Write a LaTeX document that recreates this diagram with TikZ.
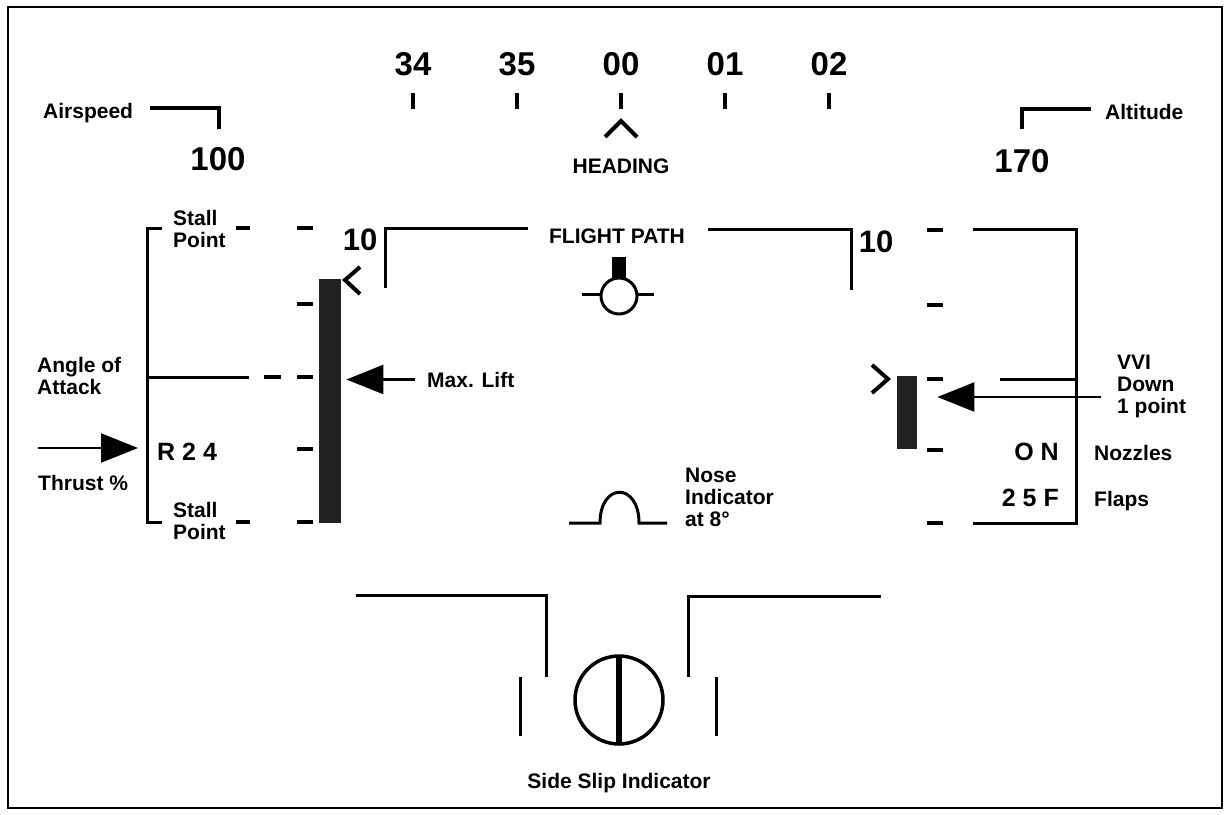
\documentclass[tikz,border=0pt]{standalone}
\usepackage{fontspec}
\setmainfont{Liberation Sans}
\usepackage{tikz}
\usetikzlibrary{arrows.meta,positioning}
\definecolor{BarGray}{RGB}{34,34,34}
\newcommand\hudlbl{\fontsize{21}{22}\selectfont\bfseries}
\newcommand\hudbig{\fontsize{33}{36}\selectfont\bfseries}
\newcommand\hudmid{\fontsize{31}{34}\selectfont\bfseries}
\newcommand\hudval{\fontsize{25}{28}\selectfont\bfseries}

\begin{document}
\begin{tikzpicture}[x=1pt, y=-1pt,
		lbl/.style={font=\hudlbl, inner sep=0pt, align=left},
		hud/.style={line width=3pt},
		heavy/.style={line width=4pt},
		tickmark/.style={line width=4.5pt},
		ptr/.style={line width=2.5pt, -{Triangle[length=37pt,width=29pt]}},
		bar/.style={fill=BarGray, inner sep=0pt, anchor=north west}]
		\useasboundingbox (0,0) rectangle (1228,814);
		% 边框
		\draw[line width=2pt] (8,7) rectangle (1222,808);
		% 航向
		\foreach \hdg [count=\i from 0] in {34,35,00,01,02} {
			\node[font=\hudbig, inner sep=0pt, anchor=base] (hdg\i) at (413+104*\i,75) {\hdg};
			\draw[tickmark] (413+104*\i,93) -- (413+104*\i,109);
		}
		\draw[heavy] (605,137) -- (621,121) -- (637,137);
		\node[lbl, anchor=base] (heading) at (621,173) {HEADING};
		% 空速
		\node[lbl, anchor=base west] (airspeed) at (43,118) {Airspeed};
		\draw[heavy] (150,108) -- (219,108) -- (219,129);
		\node[font=\hudbig, inner sep=0pt, anchor=base] (spd) at (218,170) {100};
		% 高度
		\node[lbl, anchor=base west] (altitude) at (1105,119) {Altitude};
		\draw[heavy] (1091,109) -- (1022,109) -- (1022,129);
		\node[font=\hudbig, inner sep=0pt, anchor=base] (alt) at (1022,172) {170};
		% 左侧：迎角
		\begin{scope}
			\draw[hud] (162,228) -- (147,228) -- (147,522) -- (162,522);
			\draw[hud] (147,377) -- (249,377);
			\foreach \y in {228,522} \draw[heavy] (236,\y) -- (250,\y);
			\draw[heavy] (264,377) -- (281,377);
			\foreach \y in {228,304,377,449,522} \draw[heavy] (297,\y) -- (313,\y);
			\node[lbl, anchor=north west] (stalltop) at (173,210) {Stall\\Point};
			\node[lbl, anchor=north west] (stallbot) at (173,502) {Stall\\Point};
			\node[lbl, anchor=north west] (aoa) at (37,357) {Angle of\\Attack};
			\node[font=\hudval, inner sep=0pt, anchor=base west] (r24) at (157,460) {R 2 4};
			\node[lbl, anchor=base west] (thrust) at (38,490) {Thrust \%};
			\node[bar, minimum width=22pt, minimum height=244pt] (liftbar) at (319,279) {};
			\draw[heavy] (360,267) -- (345,280) -- (360,294);
			\node[lbl, anchor=base west] (maxlift) at (427,387) {Max. Lift};
			\draw[ptr] ([xshift=-12pt]maxlift.west) -- ([xshift=5pt]liftbar.east |- maxlift.west);
			\coordinate (thrusttail) at (38,448);
			\draw[ptr] (thrusttail) -- ([xshift=-19pt]r24.west |- thrusttail);
		\end{scope}
		% 飞行路径
		\begin{scope}
			\node[font=\hudmid, inner sep=0pt, anchor=base] (pitchl) at (360,250) {10};
			\node[font=\hudmid, inner sep=0pt, anchor=base] (pitchr) at (876,252) {10};
			\draw[hud] (385,288) -- (385,228) -- (528,228);
			\draw[hud] (708,229) -- (851,229) -- (851,290);
			\node[lbl, anchor=base] (fpath) at (617,243) {FLIGHT PATH};
			\fill (612,257) rectangle (626,278);
			\draw[hud] (619,296) circle[radius=18];
			\draw[hud] (582,294) -- (601,294);
			\draw[hud] (637,294) -- (654,294);
			\draw[hud] (569,523) -- (600,523) .. controls (600,482) and (639,482) .. (639,523) -- (667,523);
			\node[lbl, anchor=north west] (nose) at (685,468) {Nose\\Indicator\\at 8°};
		\end{scope}
		% 右侧：垂直速度
		\begin{scope}
			\foreach \y in {230,305,379,450,523} \draw[heavy] (927,\y) -- (943,\y);
			\draw[hud] (973,229) -- (1076,229) -- (1076,523) -- (973,523);
			\draw[hud] (1000,379) -- (1076,379);
			\draw[heavy] (872,365) -- (888,379) -- (872,393);
			\node[bar, minimum width=20pt, minimum height=73pt] (vvibar) at (897,376) {};
			\node[lbl, anchor=north west] (vvi) at (1117,355) {VVI\\Down\\1 point};
			\coordinate (vvitail) at (1101,397);
			\draw[ptr] (vvitail) -- ([xshift=20pt]vvibar.east |- vvitail);
			\node[font=\hudval, inner sep=0pt, anchor=base east] (onval) at (1059,460) {O N};
			\node[lbl, anchor=base west] (nozzles) at (1094,460) {Nozzles};
			\node[font=\hudval, inner sep=0pt, anchor=base east] (flapval) at (1059,506) {2 5 F};
			\node[lbl, anchor=base west] (flaps) at (1094,506) {Flaps};
		\end{scope}
		% 侧滑指示
		\begin{scope}
			\draw[hud] (356,595) -- (546,595) -- (546,677);
			\draw[hud] (688,677) -- (688,596) -- (881,596);
			\draw[hud] (520,677) -- (520,736);
			\draw[hud] (716,677) -- (716,736);
			\draw[line width=3.5pt] (619,700) circle[radius=44];
			\draw[line width=6pt] (619,656) -- (619,744);
			\node[lbl, anchor=base] (slip) at (619,788) {Side Slip Indicator};
		\end{scope}
	\end{tikzpicture}
\end{document}
